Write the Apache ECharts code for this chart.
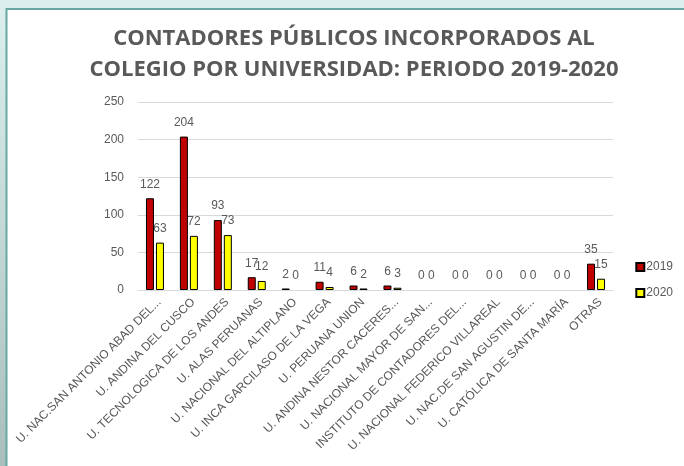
<!DOCTYPE html>
<html>
<head>
<meta charset="utf-8">
<script src="https://cdn.jsdelivr.net/npm/echarts@6/dist/echarts.min.js"></script>
<style>
html,body{margin:0;padding:0;background:#ffffff;}
#chart{width:684px;height:466px;}
</style>
</head>
<body>
<div id="chart"></div>
<script>
var categories = [
  'U. NAC.SAN ANTONIO ABAD DEL...',
  'U. ANDINA DEL CUSCO',
  'U. TECNOLOGICA DE LOS ANDES',
  'U. ALAS PERUANAS',
  'U. NACIONAL DEL ALTIPLANO',
  'U. INCA GARCILASO DE LA VEGA',
  'U. PERUANA UNION',
  'U. ANDINA NESTOR CACERES...',
  'U. NACIONAL MAYOR DE SAN...',
  'INSTITUTO DE CONTADORES DEL...',
  'U. NACIONAL FEDERICO VILLAREAL',
  'U. NAC.DE SAN AGUSTIN DE...',
  'U. CATÓLICA DE SANTA MARÍA',
  'OTRAS'
];
var values2019 = [122, 204, 93, 17, 2, 11, 6, 6, 0, 0, 0, 0, 0, 35];
var values2020 = [63, 72, 73, 12, 0, 4, 2, 3, 0, 0, 0, 0, 0, 15];
var seriesNames = ['2019', '2020'];
var yTicks = [0, 50, 100, 150, 200, 250];
var titleLines = ['CONTADORES PÚBLICOS INCORPORADOS AL', 'COLEGIO POR UNIVERSIDAD: PERIODO 2019-2020'];

var chart = echarts.init(document.getElementById('chart'), null, {renderer: 'canvas'});
var fontFam = '"Liberation Sans Narrow", "Liberation Sans", sans-serif';
var gray = '#595959';

var labelStyle = {
  show: true, position: 'top', color: gray, fontSize: 12,
  fontFamily: fontFam, distance: 8
};

function toItems(arr) {
  return arr.map(function (v) {
    return v === 0 ? {value: v, itemStyle: {borderWidth: 0}} : v;
  });
}

chart.setOption({
  animation: false,
  backgroundColor: '#ffffff',
  graphic: [
    {type: 'rect', shape: {x: 0, y: 0, width: 684, height: 8}, style: {fill: '#dcefee'}, z: -10},
    {type: 'rect', shape: {x: 0, y: 0, width: 6, height: 466},
     style: {fill: new echarts.graphic.LinearGradient(0, 0, 0, 1, [{offset: 0, color: '#dcefee'}, {offset: 1, color: '#a9bfbe'}])}, z: -10},
    {type: 'polyline', shape: {points: [[6.5, 466], [6.5, 9], [684, 9]]}, style: {stroke: '#67a8a2', lineWidth: 2, fill: null}, z: -9}
  ],
  title: {
    text: titleLines.join('\n'),
    left: 349, top: 18, textAlign: 'center',
    textStyle: {color: gray, fontSize: 22, fontWeight: 'bold', lineHeight: 31,
      fontFamily: '"Liberation Sans Narrow", "Open Sans", sans-serif'}
  },
  legend: {
    orient: 'vertical', right: 6, top: 256, itemWidth: 8, itemHeight: 8, itemGap: 14,
    icon: 'rect',
    textStyle: {color: gray, fontSize: 12, fontFamily: fontFam, padding: [0, 0, 0, -3]},
    data: seriesNames
  },
  grid: {left: 138, right: 71, top: 102, bottom: 176, containLabel: false},
  xAxis: {
    type: 'category', data: categories,
    axisLine: {lineStyle: {color: '#d9d9d9'}},
    axisTick: {show: false},
    axisLabel: {rotate: 45, interval: 0, color: gray, fontSize: 12, fontFamily: fontFam,
      margin: 6, verticalAlign: 'top'}
  },
  yAxis: {
    type: 'value', min: yTicks[0], max: yTicks[yTicks.length - 1], interval: 50,
    axisLine: {show: false}, axisTick: {show: false},
    splitLine: {lineStyle: {color: '#d9d9d9'}},
    axisLabel: {color: gray, fontSize: 12, fontFamily: fontFam, margin: 14}
  },
  series: [
    {name: seriesNames[0], type: 'bar', data: toItems(values2019), barWidth: 8, barGap: '25%',
     itemStyle: {color: '#c00000', borderColor: '#000000', borderWidth: 1}, label: labelStyle},
    {name: seriesNames[1], type: 'bar', data: toItems(values2020), barWidth: 8,
     itemStyle: {color: '#ffff00', borderColor: '#000000', borderWidth: 1}, label: labelStyle}
  ]
});
</script>
</body>
</html>
